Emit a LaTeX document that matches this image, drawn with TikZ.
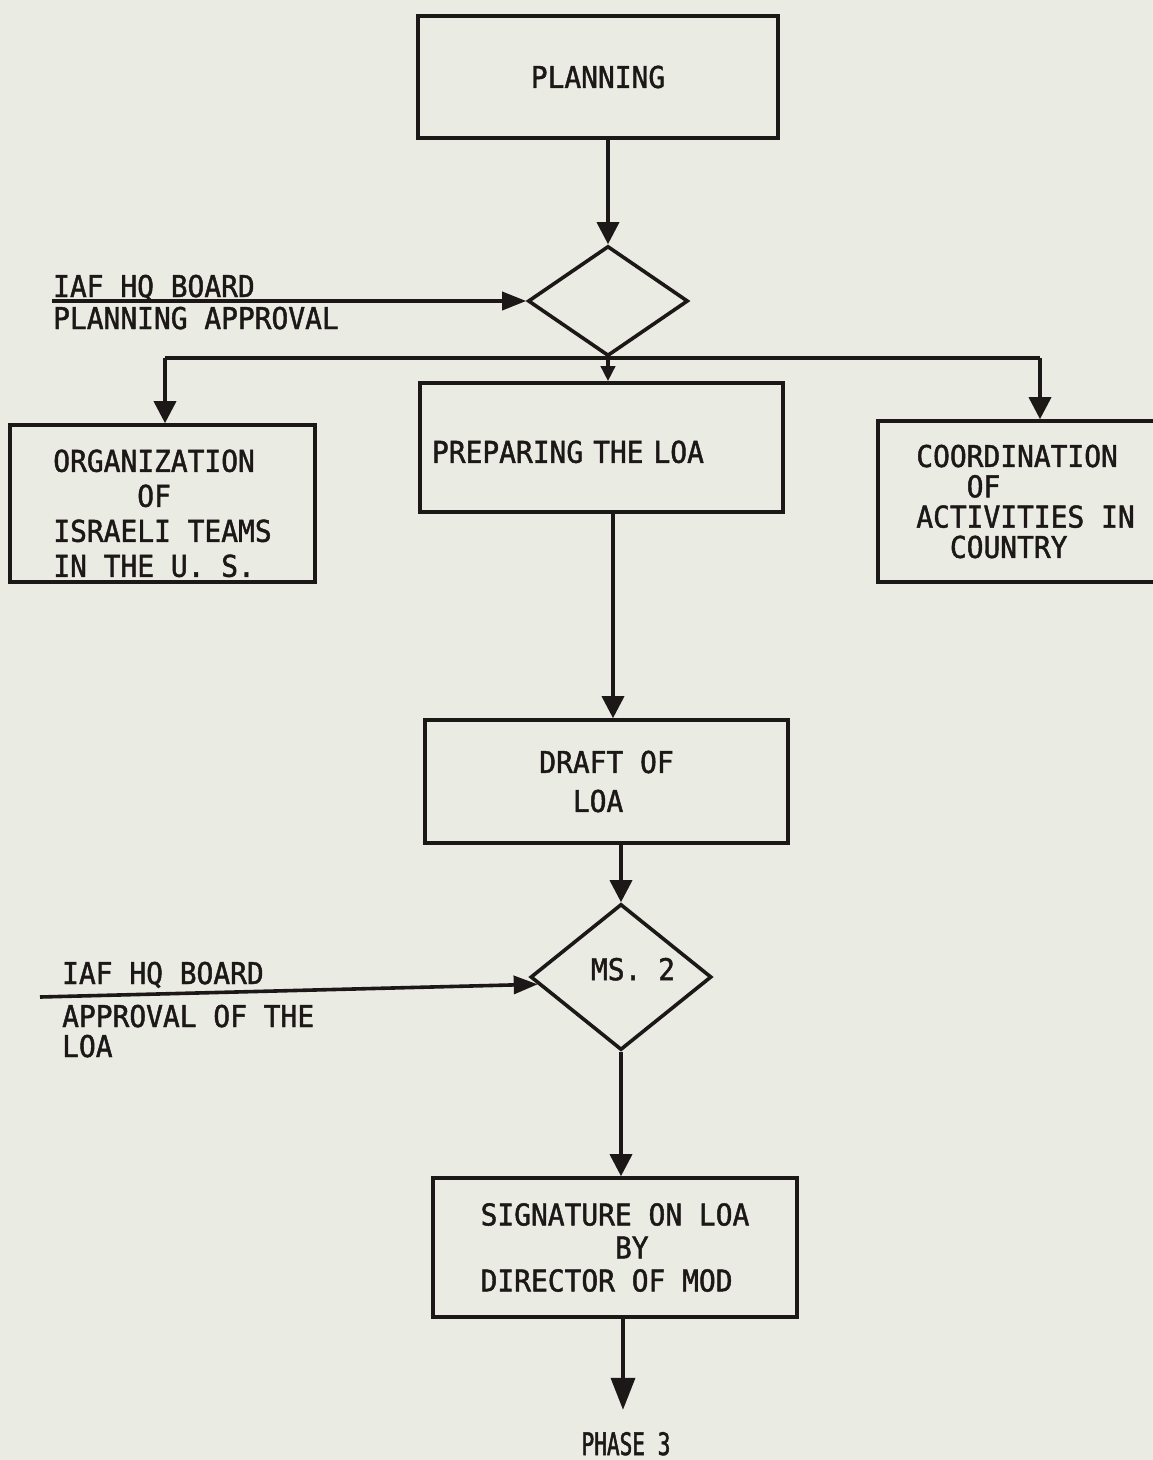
\documentclass[tikz,border=0pt]{standalone}
\usepackage{fontspec}
\usetikzlibrary{shapes.geometric,arrows.meta}
\newfontfamily\tw[FakeStretch=0.93,FakeBold=1.5,WordSpace={1,0,0}]{DejaVu Sans Mono}
\newfontfamily\twn[FakeStretch=0.68,FakeBold=1.5,WordSpace={1,0,0}]{DejaVu Sans Mono}
\definecolor{paper}{RGB}{234,235,226}
\definecolor{ink}{RGB}{28,24,24}
\tikzset{
  base/.style={font=\tw\fontsize{30}{37}\selectfont, text=ink, inner sep=0pt},
  box/.style={base, draw=ink, line width=3.6pt, rectangle},
  dia/.style={base, draw=ink, line width=3.6pt, diamond, aspect=1.25},
  lbl/.style={base},
  conn/.style={draw=ink, line width=3.6pt},
  arr/.style={conn, -{Triangle[length=22pt,width=22pt]}},
  inarr/.style={conn, -{Triangle[length=24pt,width=18pt]}},
  smallarr/.style={conn, -{Triangle[length=15pt,width=14pt]}},
  bigarr/.style={conn, -{Triangle[length=32pt,width=24pt]}},
}
\begin{document}
\begin{tikzpicture}[x=1pt,y=-1pt]
\fill[paper] (0,0) rectangle (1153,1460);
\useasboundingbox (0,0) rectangle (1153,1460);

% boxes
\node[box, minimum width=360pt, minimum height=122pt] (plan) at (598,77) {PLANNING};
\node[dia, minimum width=160pt, minimum height=110pt] (d1) at (608,301) {};
\node[box, minimum width=363pt, minimum height=129pt, text width=339pt, align=left] (prep) at (601.5,447.5) {\rule{0pt}{31pt}PREPARING THE LOA};
\node[box, minimum width=305pt, minimum height=157pt, align=left,
      font=\tw\fontsize{30}{35}\selectfont] (org) at (162.5,503.5)
  {\rule{0pt}{42pt}ORGANIZATION\\\hphantom{XXXXX}OF\\ISRAELI TEAMS\\IN THE U. S.};
\node[box, minimum width=295pt, minimum height=161pt, align=left,
      font=\tw\fontsize{30}{30.3}\selectfont] (coord) at (1025.5,501.5)
  {COORDINATION\\\hphantom{XXX}OF\\ACTIVITIES IN\\\hphantom{XX}COUNTRY};
\node[box, minimum width=363pt, minimum height=123pt, align=left,
      font=\tw\fontsize{30}{39}\selectfont] (draft) at (606.5,781.5)
  {DRAFT OF\\\hphantom{XX}LOA};
\node[dia, minimum width=181pt, minimum height=146pt] (d2) at (621,977)
  {\hspace{24pt}MS. 2\rule[-16pt]{0pt}{16pt}};
\node[box, minimum width=364pt, minimum height=139pt, align=left,
      font=\tw\fontsize{30}{33}\selectfont] (sig) at (615,1247.5)
  {SIGNATURE ON LOA\\\hphantom{XXXXXXXX}BY\\DIRECTOR OF MOD};
\node[base, font=\twn\fontsize{31}{36}\selectfont, anchor=base] (ph) at (626,1455) {PHASE 3};

% side labels
\node[lbl, anchor=base west] (l1a) at (53,297) {IAF HQ BOARD};
\node[lbl, anchor=base west] (l1b) at (53,329) {PLANNING APPROVAL};
\node[lbl, anchor=base west] (l2a) at (62,984) {IAF HQ BOARD};
\node[lbl, anchor=base west] (l2b) at (62,1027) {APPROVAL OF THE};
\node[lbl, anchor=base west] (l2c) at (62,1057) {LOA};

% helper coordinates
\coordinate (in1) at (52,301);
\coordinate (bl) at (165,358);
\coordinate (br) at (1040,358);
\coordinate (mx1) at (613,0);
\coordinate (in2) at (40,997);
\coordinate (mx2) at (623,0);

% connectors
\draw[arr] (d1.north |- plan.south) -- (d1.north);
\draw[inarr] (in1) -- (d1.west);
\draw[conn] (d1.south) -- (d1.south |- bl);
\draw[conn] (bl) -- (br);
\draw[arr] (bl) -- (bl |- org.north);
\draw[arr] (br) -- (br |- coord.north);
\draw[smallarr] (d1.south |- bl) -- (d1.south |- prep.north);
\draw[arr] (mx1 |- prep.south) -- (mx1 |- draft.north);
\draw[arr] (d2.north |- draft.south) -- (d2.north);
\draw[inarr] (in2) -- (d2.185);
\draw[arr] (d2.south) -- (d2.south |- sig.north);
\draw[bigarr, shorten >=22pt] (mx2 |- sig.south) -- (mx2 |- ph.north);
\end{tikzpicture}
\end{document}
